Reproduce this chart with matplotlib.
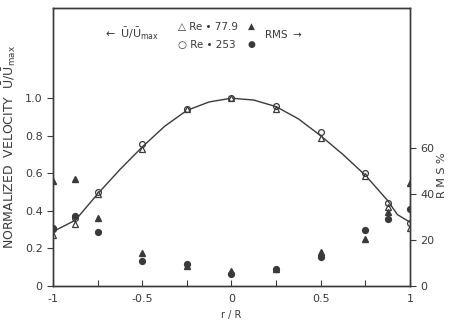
import numpy as np
import matplotlib.pyplot as plt

# r/R positions of the measurements
r_pts = [-1, -0.875, -0.75, -0.5, -0.25, 0, 0.25, 0.5, 0.75, 0.875, 1]

# mean velocity U/Umax (left axis)
u_re779 = [0.27, 0.33, 0.49, 0.73, 0.94, 1.0, 0.945, 0.79, 0.585, 0.42, 0.31]
u_re253 = [0.31, 0.36, 0.50, 0.755, 0.94, 1.0, 0.96, 0.82, 0.60, 0.44, 0.335]

# RMS % (right axis)
rms_re779 = [45.6, 46.5, 29.6, 14.3, 8.7, 6.5, 7.4, 14.8, 20.4, 32, 45]
rms_re253 = [24.8, 30.4, 23.5, 10.9, 9.6, 5.2, 7.4, 12.6, 24.3, 29, 33.5]

# fitted curve
r_curve = [-1, -0.875, -0.75, -0.625, -0.5, -0.375, -0.25, -0.125, 0,
           0.125, 0.25, 0.375, 0.5, 0.625, 0.75, 0.875, 0.93, 1]
u_curve = [0.29, 0.35, 0.49, 0.62, 0.74, 0.85, 0.935, 0.98, 1.0,
           0.99, 0.955, 0.89, 0.80, 0.70, 0.59, 0.455, 0.38, 0.34]

ink = '#3a3a3a'
plt.rcParams['font.family'] = ['DejaVu Sans']
plt.rcParams['text.color'] = ink

fig = plt.figure(figsize=(4.49, 3.21), dpi=100)
ax = fig.add_axes([0.118, 0.109, 0.795, 0.866])
ax2 = ax.twinx()

ax.plot(r_curve, u_curve, color=ink, lw=1.0)
ax.plot(r_pts, u_re779, ls='none', marker='^', mfc='white', mec=ink, ms=4.2, mew=0.9)
ax.plot(r_pts, u_re253, ls='none', marker='o', mfc='none', mec=ink, ms=4.2, mew=0.9)

ax2.plot(r_pts, rms_re779, ls='none', marker='^', color=ink, ms=4.2)
ax2.plot(r_pts, rms_re253, ls='none', marker='o', color=ink, ms=4.2)

ax.set_xlim(-1, 1)
ax.set_ylim(0, 1.48)
ax2.set_ylim(0, 121)

ax.set_xticks([-1, -0.75, -0.5, -0.25, 0, 0.25, 0.5, 0.75, 1])
ax.set_xticklabels(['-1', '', '-0.5', '', '0', '', '0.5', '', '1'])
ax.set_yticks([0, 0.2, 0.4, 0.6, 0.8, 1.0])
ax.set_yticklabels(['0', '0.2', '0.4', '0.6', '0.8', '1.0'])
ax2.set_yticks([0, 20, 40, 60])

ax.tick_params(axis='x', direction='in', length=4, colors=ink, labelsize=8, pad=6)
ax.tick_params(axis='y', direction='out', length=4, colors=ink, labelsize=8)
ax2.tick_params(axis='y', direction='out', length=4, colors=ink, labelsize=8)
for a in (ax, ax2):
    for s in a.spines.values():
        s.set_color(ink)
        s.set_linewidth(1.0)

ax.set_xlabel('r / R', fontsize=7, color=ink, labelpad=4)
ax.set_ylabel(r'NORMALIZED  VELOCITY  $\bar{\mathrm{U}}/\bar{\mathrm{U}}_{\mathrm{max}}$',
              fontsize=9, color=ink, labelpad=5)
ax2.set_ylabel('R M S %', fontsize=8, color=ink, labelpad=8, rotation=90)
ax2.yaxis.set_label_coords(1.075, 0.4)

# legend drawn as text inside the frame
ax.text(0.14, 0.905, r'$\leftarrow$ $\bar{\mathrm{U}}/\bar{\mathrm{U}}_{\mathrm{max}}$',
        transform=ax.transAxes, fontsize=8, va='center')
ax.text(0.35, 0.932, '\u25b3 Re \u2022 77.9', transform=ax.transAxes, fontsize=7.5, va='center')
ax.text(0.35, 0.867, '\u25cb Re \u2022 253', transform=ax.transAxes, fontsize=7.5, va='center')
ax.text(0.557, 0.935, '\u25b2', transform=ax.transAxes, fontsize=6.5, va='center', ha='center')
ax.text(0.557, 0.867, '\u25cf', transform=ax.transAxes, fontsize=6.5, va='center', ha='center')
ax.text(0.59, 0.906, r'RMS $\rightarrow$', transform=ax.transAxes, fontsize=7.5, va='center')

fig.savefig('out.png', dpi=100)
